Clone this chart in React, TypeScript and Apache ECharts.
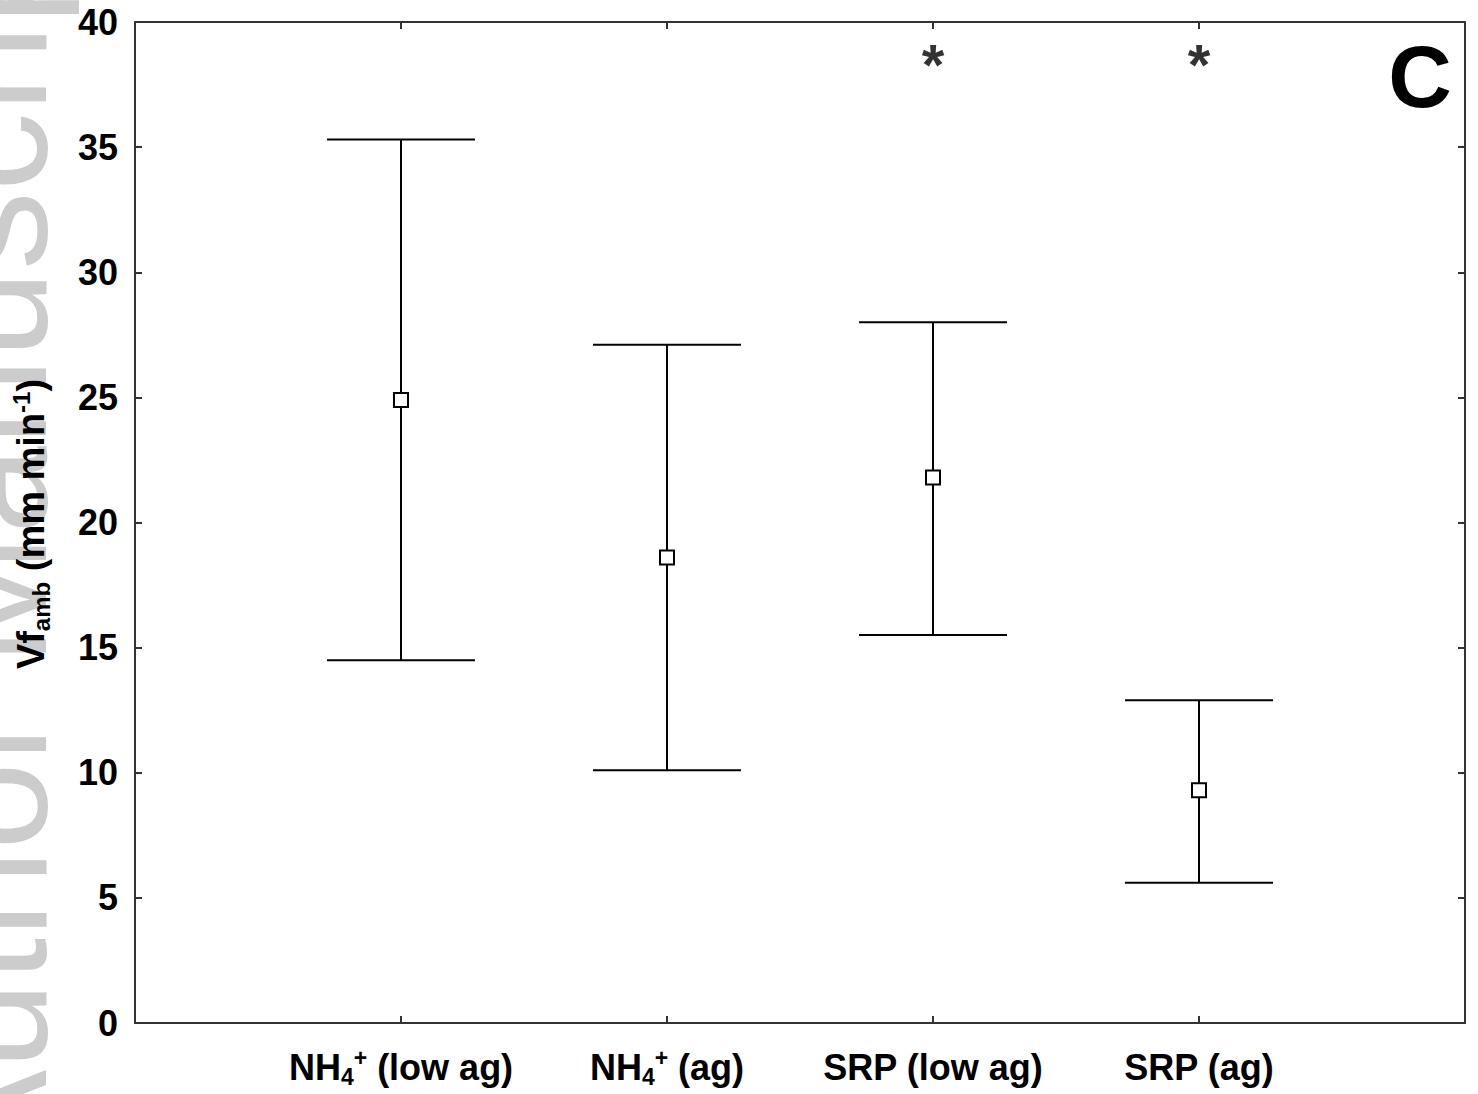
import React, { useEffect, useRef } from "react";
import * as echarts from "echarts";

const categories = ["NH4+ (low ag)", "NH4+ (ag)", "SRP (low ag)", "SRP (ag)"];
const categoryLabels = [
  "NH{sub|4}{sup|+} (low ag)",
  "NH{sub|4}{sup|+} (ag)",
  "SRP (low ag)",
  "SRP (ag)",
];
const meanValues = [24.9, 18.6, 21.8, 9.3];
const upperValues = [35.3, 27.1, 28.0, 12.9];
const lowerValues = [14.5, 10.1, 15.5, 5.6];
const significance = ["", "", "*", "*"];
const significanceLevel = 38.3;
const yTicks = [0, 5, 10, 15, 20, 25, 30, 35, 40];

const FONT = '"Liberation Sans", Arial, sans-serif';

export default function App() {
  const ref = useRef<HTMLDivElement>(null);

  useEffect(() => {
    if (!ref.current) return;
    const chart = echarts.init(ref.current, undefined, { renderer: "svg" });

    const positions = categories.map((_, i) => i + 1);
    const meanData = positions.map((x, i) => [x, meanValues[i]]);
    const barData = positions.map((x, i) => [x, lowerValues[i], upperValues[i]]);
    const sigData = positions
      .map((x, i) => ({ value: [x, significanceLevel], mark: significance[i] }))
      .filter((d) => d.mark !== "");

    const axisLine = { show: true, onZero: false, lineStyle: { color: "#333", width: 2 } };
    const tick = { show: true, inside: true, length: 7, lineStyle: { color: "#333", width: 2 } };
    const baseRich = {
      b: { fontSize: 36, fontWeight: "bold", fontFamily: FONT, color: "#000", lineHeight: 42 },
      sub: { fontSize: 23, fontWeight: "bold", fontFamily: FONT, color: "#000", lineHeight: 23, verticalAlign: "bottom" },
      sup: { fontSize: 23, fontWeight: "bold", fontFamily: FONT, color: "#000", lineHeight: 23, verticalAlign: "top" },
    };

    const xBase = { type: "value", min: 0, max: 5, interval: 1, splitLine: { show: false }, axisLine, axisTick: tick };
    const yBase = { type: "value", min: 0, max: 40, interval: 5, splitLine: { show: false }, axisLine, axisTick: tick };

    const option: any = {
      animation: false,
      backgroundColor: "#fff",
      grid: { left: 135, right: 13, top: 22, bottom: 71, containLabel: false },
      xAxis: [
        {
          ...xBase,
          position: "bottom",
          axisLabel: {
            margin: 23,
            fontSize: 36,
            fontWeight: "bold",
            fontFamily: FONT,
            color: "#000",
            lineHeight: 42,
            formatter: (v: number) => {
              const i = Math.round(v) - 1;
              if (i < 0 || i >= categoryLabels.length) return "";
              return categoryLabels[i];
            },
            rich: baseRich,
          },
        },
        {
          ...xBase,
          position: "top",
          axisLabel: { show: false },
        },
      ],
      yAxis: [
        {
          ...yBase,
          position: "left",
          axisLabel: {
            margin: 17,
            fontSize: 36,
            fontWeight: "bold",
            fontFamily: FONT,
            color: "#000",
            formatter: (v: number) => (yTicks.includes(v) ? String(v) : ""),
          },
        },
        {
          ...yBase,
          position: "right",
          axisLabel: { show: false },
        },
      ],
      graphic: [
        {
          type: "text",
          z: -10,
          x: 70,
          y: 1175,
          rotation: Math.PI / 2,
          silent: true,
          style: {
            text: "Author Manuscript",
            font: `158px ${FONT}`,
            fill: "#cccccc",
            textAlign: "left",
            textVerticalAlign: "bottom",
          },
        },
        {
          type: "text",
          x: 31,
          y: 524,
          rotation: Math.PI / 2,
          style: {
            text: "{b|Vf}{sub|amb}{b| (mm min}{sup|-1}{b|)}",
            textAlign: "center",
            textVerticalAlign: "middle",
            rich: {
              b: { fontSize: 38, fontWeight: "bold", fontFamily: FONT, fill: "#000", lineHeight: 44 },
              sub: { fontSize: 24, fontWeight: "bold", fontFamily: FONT, fill: "#000", lineHeight: 24, verticalAlign: "bottom" },
              sup: { fontSize: 24, fontWeight: "bold", fontFamily: FONT, fill: "#000", lineHeight: 24, verticalAlign: "top" },
            },
          },
        },
        {
          type: "text",
          x: 1420,
          y: 76,
          style: {
            text: "C",
            font: `bold 88px ${FONT}`,
            fill: "#000",
            textAlign: "center",
            textVerticalAlign: "middle",
          },
        },
      ],
      series: [
        {
          type: "custom",
          xAxisIndex: 0,
          yAxisIndex: 0,
          data: barData,
          encode: { x: 0, y: [1, 2] },
          z: 2,
          renderItem: (params: any, api: any) => {
            const x = api.value(0);
            const lo = api.value(1);
            const hi = api.value(2);
            const pHi = api.coord([x, hi]);
            const pLo = api.coord([x, lo]);
            const hw = 74;
            const st = { stroke: "#000", lineWidth: 2 };
            return {
              type: "group",
              children: [
                { type: "line", shape: { x1: pHi[0], y1: pHi[1], x2: pLo[0], y2: pLo[1] }, style: st },
                { type: "line", shape: { x1: pHi[0] - hw, y1: pHi[1], x2: pHi[0] + hw, y2: pHi[1] }, style: st },
                { type: "line", shape: { x1: pLo[0] - hw, y1: pLo[1], x2: pLo[0] + hw, y2: pLo[1] }, style: st },
              ],
            };
          },
        },
        {
          type: "scatter",
          xAxisIndex: 0,
          yAxisIndex: 0,
          data: meanData,
          symbol: "rect",
          symbolSize: 14,
          z: 5,
          itemStyle: { color: "#fff", borderColor: "#000", borderWidth: 2, opacity: 1 },
        },
        {
          type: "scatter",
          xAxisIndex: 0,
          yAxisIndex: 0,
          data: sigData.map((d) => d.value),
          symbolSize: 0,
          z: 5,
          label: {
            show: true,
            position: "inside",
            formatter: (p: any) => sigData[p.dataIndex].mark,
            fontSize: 58,
            fontWeight: "bold",
            fontFamily: FONT,
            color: "#000",
          },
        },
      ],
    };

    chart.setOption(option);
    return () => chart.dispose();
  }, []);

  return (
    <div
      ref={ref}
      style={{ position: "absolute", left: 0, top: 0, width: 1478, height: 1094, background: "#fff" }}
    />
  );
}
